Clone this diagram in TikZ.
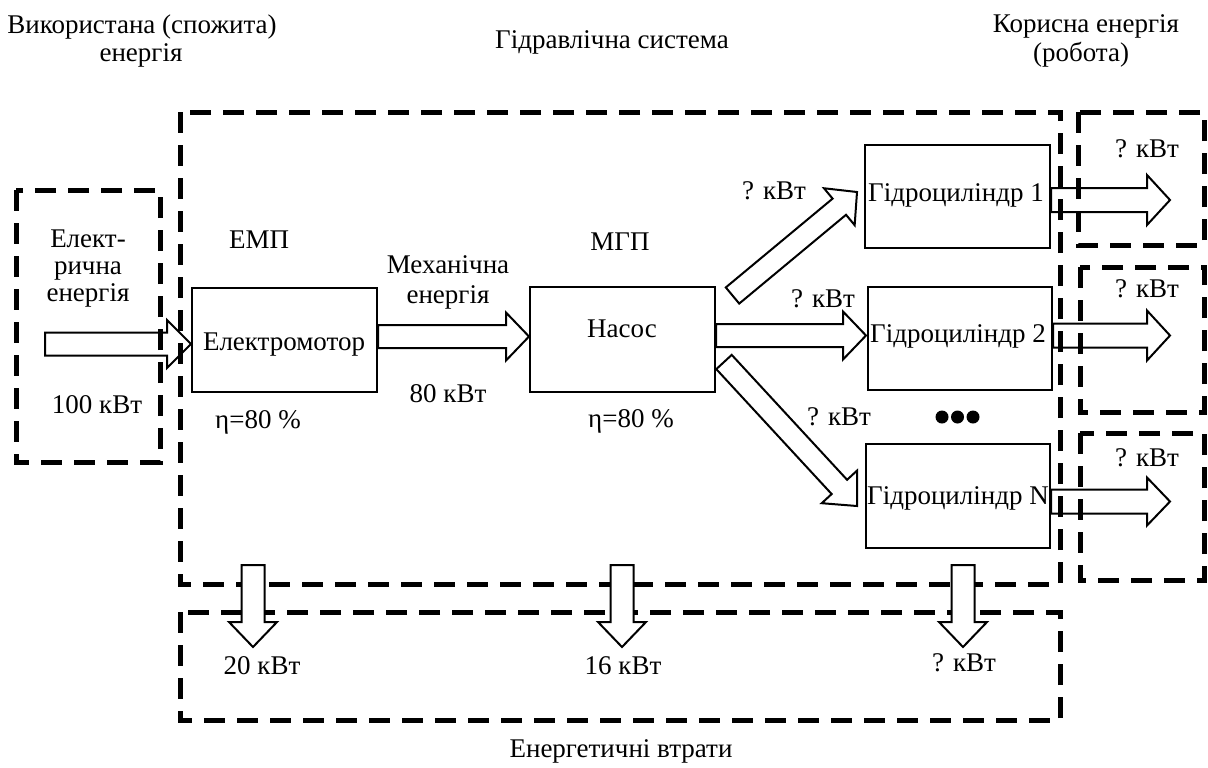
\documentclass[tikz,border=0pt]{standalone}
\usepackage{fontspec}
\setmainfont{Liberation Serif}
\usetikzlibrary{calc}
\tikzset{
  dbox/.style={draw, line width=2.5pt, dash pattern=on 10.5pt off 6pt},
  sbox/.style={draw, line width=1pt, fill=white, inner sep=0pt},
  blockarrow/.style={draw, line width=1pt, fill=white, line join=miter},
  txt/.style={anchor=base, inner sep=0pt, font=\fontsize{13.5pt}{15pt}\selectfont},
  dot/.style={fill=black, draw=none},
}
% block arrow: #1 tail, #2 tip, #3 shaft half width, #4 head half width, #5 head length
\newcommand\blockarr[5]{%
  \coordinate (bab) at ($(#2)!#5!(#1)$);
  \draw[blockarrow] ($(#1)!#3!90:(#2)$) -- ($(bab)!#3!-90:(#1)$) -- ($(bab)!#4!-90:(#1)$)
     -- (#2) -- ($(bab)!#4!90:(#1)$) -- ($(bab)!#3!90:(#1)$) -- ($(#1)!#3!-90:(#2)$) -- cycle;}
\begin{document}
\begin{tikzpicture}[x=0.5pt, y=-0.5pt]
\useasboundingbox (0,0) rectangle (1208,767);

% solid boxes
\node[sbox, minimum width=92.5pt, minimum height=52pt] (em) at (284.5,340) {};
\node[sbox, minimum width=92.5pt, minimum height=52.5pt] (pump) at (622.5,339.5) {};
\node[sbox, minimum width=92.5pt, minimum height=51.5pt] (h1) at (957.5,196.5) {};
\node[sbox, minimum width=92pt, minimum height=51.5pt] (h2) at (960,338.5) {};
\node[sbox, minimum width=92pt, minimum height=52pt] (hN) at (958,496) {};

% arrows under the dashed frames
\coordinate (inT) at (45,344);
\coordinate (inH) at (em.west |- inT);
\blockarr{inT}{inH}{5.75pt}{12pt}{12pt}
\coordinate (mA) at (em.east |- 0,336.5);
\coordinate (mB) at (pump.west |- 0,336.5);
\blockarr{mA}{mB}{5.75pt}{12pt}{11.5pt}
\coordinate (p2A) at (pump.east |- 0,335.5);
\coordinate (p2B) at (866,335.5);
\blockarr{p2A}{p2B}{5.75pt}{12pt}{11.5pt}
\coordinate (p1A) at (732.5,295.5);
\coordinate (p1B) at (857,192);
\blockarr{p1A}{p1B}{5.25pt}{12pt}{11.5pt}
\coordinate (pNA) at (724,362);
\coordinate (pNB) at (857,506);
\blockarr{pNA}{pNB}{5.25pt}{12pt}{13pt}
\coordinate (o1A) at (h1.east |- 0,200);
\coordinate (o1B) at (1170,200);
\blockarr{o1A}{o1B}{6pt}{12.5pt}{11.5pt}
\coordinate (o2A) at (h2.east |- 0,335.5);
\coordinate (o2B) at (1170,335.5);
\blockarr{o2A}{o2B}{6pt}{12.5pt}{11.5pt}
\coordinate (oNA) at (hN.east |- 0,501.5);
\coordinate (oNB) at (1170,501.5);
\blockarr{oNA}{oNB}{6pt}{12pt}{11.5pt}

% dashed frames
\draw[dbox] (16,190) rectangle (160,462);
\draw[dbox] (180,112) rectangle (1060,584);
\draw[dbox] (1078,112) rectangle (1204,245);
\draw[dbox] (1080,267) rectangle (1204,412);
\draw[dbox] (1080,433) rectangle (1204,580);
\draw[dbox] (180,612) rectangle (1060,720);

% loss arrows
\coordinate (d1A) at (253,565); \coordinate (d1B) at (253,647);
\blockarr{d1A}{d1B}{5.75pt}{12pt}{12.5pt}
\coordinate (d2A) at (622,565); \coordinate (d2B) at (622,647);
\blockarr{d2A}{d2B}{5.75pt}{12pt}{12.5pt}
\coordinate (d3A) at (963,565); \coordinate (d3B) at (963,647);
\blockarr{d3A}{d3B}{5.75pt}{12pt}{12.5pt}

% texts
\node[txt] (t1) at (142,33) {Використана (спожита)};
\node[txt] (t2) at (141,61) {енергія};
\node[txt] (t3) at (612,48) {Гідравлічна система};
\node[txt] (t4) at (1086,32) {Корисна енергія};
\node[txt] (t5) at (1081,61) {(робота)};
\node[txt] (e1) at (88,247) {Елект-};
\node[txt] (e2) at (88,274) {рична};
\node[txt] (e3) at (88,301) {енергія};
\node[txt] (e4) at (97,413) {100 кВт};
\node[txt] (emp) at (259,248) {ЕМП};
\node[txt] (emt) at (284,350) {Електромотор};
\node[txt] (eta1) at (258,428) {η=80 \%};
\node[txt] (m1) at (448,273) {Механічна};
\node[txt] (m2) at (448,303) {енергія};
\node[txt] (m3) at (448,402) {80 кВт};
\node[txt] (mgp) at (620,250) {МГП};
\node[txt] (pt) at (622,337) {Насос};
\node[txt] (eta2) at (631,427) {η=80 \%};
\node[txt] (q1) at (774,199) {? кВт};
\node[txt] (h1t) at (956,201) {Гідроциліндр 1};
\node[txt] (q2) at (823,307) {? кВт};
\node[txt] (h2t) at (958,342) {Гідроциліндр 2};
\node[txt] (q3) at (839,425) {? кВт};
\node[txt] (hNt) at (958,504) {Гідроциліндр N};
\node[txt] (r1) at (1147,157) {? кВт};
\node[txt] (r2) at (1147,297) {? кВт};
\node[txt] (r3) at (1147,466) {? кВт};
\node[txt] (l1) at (262,674) {20 кВт};
\node[txt] (l2) at (623,674) {16 кВт};
\node[txt] (l3) at (964,671) {? кВт};
\node[txt] (lt) at (621,757) {Енергетичні втрати};

% dots
\fill[dot] (942,417) circle[radius=3.25pt];
\fill[dot] (957.5,417) circle[radius=3.25pt];
\fill[dot] (973,417) circle[radius=3.25pt];
\end{tikzpicture}
\end{document}
